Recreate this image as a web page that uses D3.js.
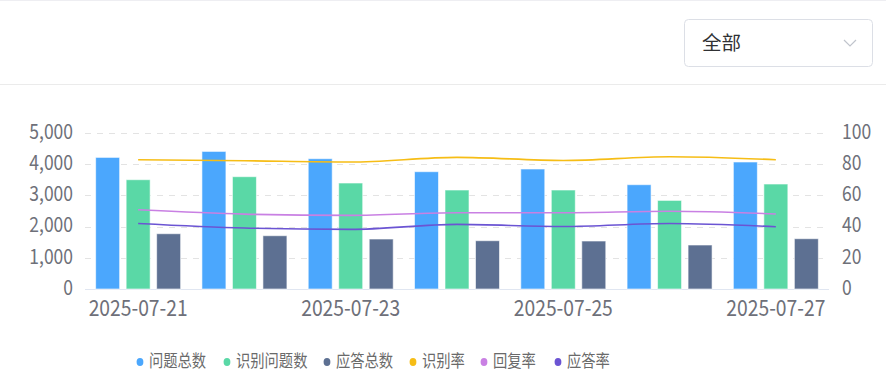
<!DOCTYPE html>
<html>
<head>
<meta charset="utf-8">
<script src="https://cdn.jsdelivr.net/npm/d3@7"></script>
<style>
  body { margin: 0; background: #fff; font-family: "Noto Sans CJK SC", "Microsoft YaHei", sans-serif; }
  #chart { width: 886px; height: 384px; }
</style>
</head>
<body>
<div id="chart"></div>
<script>
  // chart data
  const dates = ["2025-07-21", "2025-07-22", "2025-07-23", "2025-07-24", "2025-07-25", "2025-07-26", "2025-07-27"];
  const tickDates = ["2025-07-21", "2025-07-23", "2025-07-25", "2025-07-27"];
  const totalQuestions = [4218, 4410, 4176, 3760, 3846, 3343, 4071];
  const recognized = [3503, 3600, 3397, 3173, 3173, 2840, 3365];
  const answered = [1772, 1708, 1602, 1548, 1538, 1410, 1612];
  const recogRate = [82.9, 82.2, 81.4, 84.4, 82.4, 84.8, 82.9];
  const replyRate = [50.8, 48.0, 47.2, 48.9, 48.9, 49.8, 48.1];
  const answerRate = [42.0, 39.1, 38.2, 41.4, 40.1, 42.0, 39.9];
  const leftTicks = [0, 1000, 2000, 3000, 4000, 5000];
  const rightTicks = [0, 20, 40, 60, 80, 100];

  const barSeries = [
    {name: "问题总数", values: totalQuestions, color: "#4ba7fd"},
    {name: "识别问题数", values: recognized, color: "#5ad8a6"},
    {name: "应答总数", values: answered, color: "#5d7092"}
  ];
  const lineSeries = [
    {name: "识别率", values: recogRate, color: "#f6bd16"},
    {name: "回复率", values: replyRate, color: "#c980e3"},
    {name: "应答率", values: answerRate, color: "#6b54d3"}
  ];

  const width = 886, height = 384;
  const stretch = 1.18; // the picture's text is a bit taller than wide
  const svg = d3.select("#chart").append("svg")
    .attr("width", width).attr("height", height);

  // stretch a text vertically around its own baseline
  const tall = (sel, cy) => sel.attr("transform", function() {
    const y = cy !== undefined ? cy : +(d3.select(this).attr("y") || 0);
    return `translate(0,${y}) scale(1,${stretch}) translate(0,${-y})`;
  });

  // header with the select box
  svg.append("line").attr("x1", 0).attr("x2", width).attr("y1", 0.5).attr("y2", 0.5)
    .attr("stroke", "#eeeef2");
  svg.append("line").attr("x1", 0).attr("x2", width).attr("y1", 84.5).attr("y2", 84.5)
    .attr("stroke", "#ebebeb");
  svg.append("rect").attr("x", 684.5).attr("y", 19.5).attr("width", 188).attr("height", 47)
    .attr("rx", 4).attr("fill", "#fff").attr("stroke", "#dcdfe6");
  svg.append("text").attr("x", 702).attr("y", 50).attr("font-size", 19.5)
    .attr("fill", "#303133").text("全部");
  svg.append("path").attr("d", "M844,40 L850,46 L856,40")
    .attr("fill", "none").attr("stroke", "#c0c4cc").attr("stroke-width", 1.2);

  const x = d3.scaleBand().domain(dates).range([85, 829]);
  const yL = d3.scaleLinear().domain([0, 5000]).range([289, 133]);
  const yR = d3.scaleLinear().domain([0, 100]).range([289, 133]);

  // grid
  svg.append("g").selectAll("line").data(leftTicks.slice(1)).enter().append("line")
    .attr("x1", 85).attr("x2", 829)
    .attr("y1", d => Math.round(yL(d)) + 0.5).attr("y2", d => Math.round(yL(d)) + 0.5)
    .attr("stroke", "#e3e3e3").attr("stroke-dasharray", "6,6");
  svg.append("line").attr("x1", 85).attr("x2", 829).attr("y1", 289.5).attr("y2", 289.5)
    .attr("stroke", "#e0e6f1");

  // left axis
  const leftAxis = svg.append("g").attr("transform", "translate(85,0)")
    .call(d3.axisLeft(yL).tickValues(leftTicks).tickSize(0).tickPadding(12).tickFormat(d3.format(",")));
  leftAxis.select(".domain").remove();
  leftAxis.selectAll("text").attr("font-size", 17.5).attr("fill", "#6e7079")
    .attr("dy", "0.26em")
    .attr("font-family", "Noto Sans CJK SC, sans-serif").call(tall, 0);

  // right axis
  const rightAxis = svg.append("g").attr("transform", "translate(829,0)")
    .call(d3.axisRight(yR).tickValues(rightTicks).tickSize(0).tickPadding(13));
  rightAxis.select(".domain").remove();
  rightAxis.selectAll("text").attr("font-size", 17.5).attr("fill", "#6e7079")
    .attr("dy", "0.26em")
    .attr("font-family", "Noto Sans CJK SC, sans-serif").call(tall, 0);

  // bottom axis
  const bottomAxis = svg.append("g").attr("transform", "translate(0,289)")
    .call(d3.axisBottom(x).tickValues(tickDates).tickSize(0).tickPadding(11));
  bottomAxis.select(".domain").remove();
  bottomAxis.selectAll("text").attr("font-size", 19.3).attr("fill", "#6e7079")
    .attr("font-family", "Noto Sans CJK SC, sans-serif").call(tall, 11);

  // bars
  const barW = 24, barGap = 6.5;
  barSeries.forEach((s, i) => {
    svg.append("g").selectAll("rect").data(s.values).enter().append("rect")
      .attr("x", (d, j) => x(dates[j]) + x.bandwidth() / 2 - (3 * barW + 2 * barGap) / 2 + i * (barW + barGap))
      .attr("y", d => yL(d))
      .attr("width", barW)
      .attr("height", d => yL(0) - yL(d))
      .attr("fill", s.color)
      .attr("stroke", "rgba(255,255,255,0.6)")
      .attr("stroke-width", 1);
  });

  // lines
  const line = d3.line()
    .x((d, j) => x(dates[j]) + x.bandwidth() / 2)
    .y(d => yR(d))
    .curve(d3.curveMonotoneX);
  lineSeries.forEach(s => {
    svg.append("path").datum(s.values)
      .attr("d", line)
      .attr("fill", "none")
      .attr("stroke", s.color)
      .attr("stroke-width", 1.6);
  });

  // legend
  const legendItems = barSeries.concat(lineSeries);
  const legendX = [140, 227, 327, 413, 484, 558];
  const legend = svg.append("g");
  legendItems.forEach((s, i) => {
    legend.append("ellipse").attr("cx", legendX[i]).attr("cy", 362)
      .attr("rx", 3.4).attr("ry", 4).attr("fill", s.color);
    legend.append("text").attr("x", legendX[i] + 9).attr("y", 367)
      .attr("font-size", 14.3).attr("fill", "#6a6a6a").text(s.name).call(tall);
  });
</script>
</body>
</html>
